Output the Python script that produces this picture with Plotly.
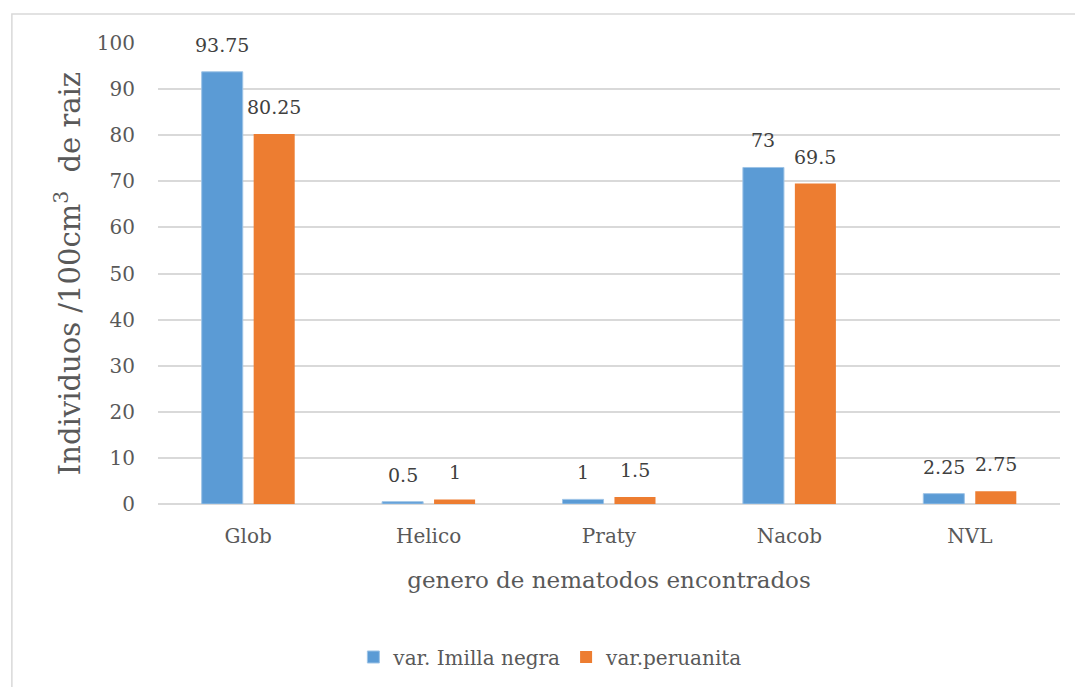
import plotly.graph_objects as go

categories = ["Glob", "Helico", "Praty", "Nacob", "NVL"]
imilla_negra = [93.75, 0.5, 1, 73, 2.25]
peruanita = [80.25, 1, 1.5, 69.5, 2.75]
series_names = ["var. Imilla negra", "var.peruanita"]
y_ticks = [0, 10, 20, 30, 40, 50, 60, 70, 80, 90, 100]

BLUE = "#5B9BD5"
ORANGE = "#ED7D31"
FONT = "DejaVu Serif"

fig = go.Figure()
fig.add_trace(go.Bar(
    x=categories, y=imilla_negra, name=series_names[0],
    marker=dict(color=BLUE, line=dict(color="#9DC3E6", width=1)),
))
fig.add_trace(go.Bar(
    x=categories, y=peruanita, name=series_names[1],
    marker=dict(color=ORANGE, line=dict(color=ORANGE, width=0)),
))

# value labels above each bar
for vals, dx in ((imilla_negra, -26), (peruanita, 26)):
    for cat, v in zip(categories, vals):
        fig.add_annotation(
            x=cat, y=v, text=f"{v:g}", showarrow=False,
            xref="x", yref="y", xshift=dx, yshift=27,
            font=dict(family=FONT, size=19, color="#404040"),
        )

# outer chart frame
fig.add_shape(
    type="rect", xref="paper", yref="paper",
    x0=-0.162, x1=1.04, y0=-0.5, y1=1.063,
    line=dict(color="#D9D9D9", width=1.5), fillcolor="rgba(0,0,0,0)",
    layer="below",
)

fig.update_layout(
    width=1075, height=687,
    margin=dict(l=158, r=15, t=43, b=182),
    paper_bgcolor="white", plot_bgcolor="white",
    barmode="group", bargap=0.424, bargroupgap=0.21,
    font=dict(family=FONT, color="#595959"),
    showlegend=True,
    legend=dict(
        orientation="h", x=0.435, xanchor="center", y=-0.329, yanchor="middle",
        font=dict(family=FONT, size=20, color="#595959"),
        itemwidth=30, tracegroupgap=0,
    ),
    xaxis=dict(
        showgrid=False, showline=False, zeroline=False,
        tickfont=dict(family=FONT, size=20, color="#595959"),
        ticks="outside", ticklen=14, tickcolor="rgba(0,0,0,0)",
        title=dict(text="genero de nematodos encontrados",
                   font=dict(family=FONT, size=23, color="#595959"),
                   standoff=24),
    ),
    yaxis=dict(
        range=[0, 100], tickvals=y_ticks,
        showgrid=True, gridcolor="#D9D9D9", gridwidth=1.5,
        zeroline=True, zerolinecolor="#D9D9D9", zerolinewidth=1.5,
        showline=False,
        tickfont=dict(family=FONT, size=20, color="#595959"),
        ticklabelstandoff=22,
        title=dict(text="Individuos /100cm<sup>3</sup>  de raiz",
                   font=dict(family=FONT, size=29, color="#595959"),
                   standoff=7),
    ),
)

fig.write_html("out.html")
